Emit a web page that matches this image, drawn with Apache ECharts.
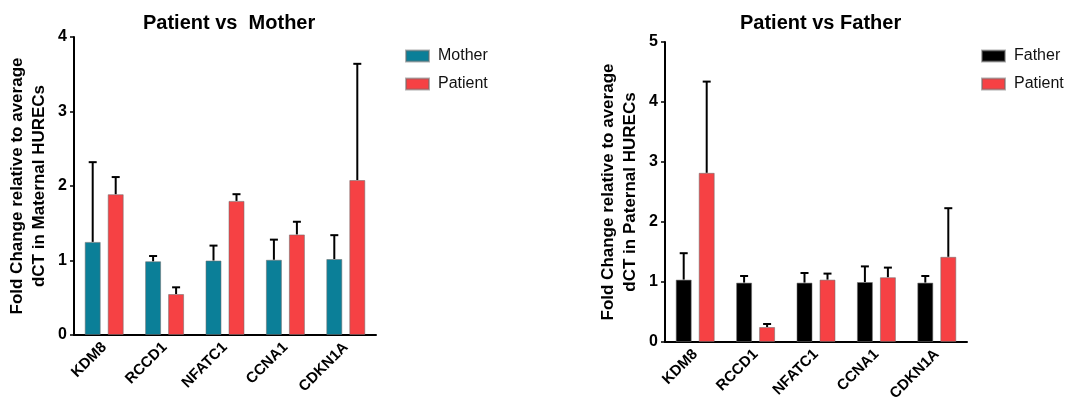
<!DOCTYPE html>
<html>
<head>
<meta charset="utf-8">
<script src="https://cdn.jsdelivr.net/npm/echarts@6/dist/echarts.min.js"></script>
<style>
html,body{margin:0;padding:0;background:#fff;}
#c{width:1073px;height:409px;}
</style>
</head>
<body>
<div id="c"></div>
<script>
// ---- data ----
const genes = ['KDM8', 'RCCD1', 'NFATC1', 'CCNA1', 'CDKN1A'];

// Left panel: Patient vs Mother
const motherMean = [1.25, 0.99, 1.00, 1.01, 1.02];
const motherErr  = [1.07, 0.07, 0.20, 0.27, 0.32];
const patientMMean = [1.89, 0.55, 1.80, 1.35, 2.08];
const patientMErr  = [0.23, 0.09, 0.09, 0.17, 1.56];

// Right panel: Patient vs Father
const fatherMean = [1.04, 0.99, 0.99, 1.00, 0.99];
const fatherErr  = [0.44, 0.11, 0.16, 0.26, 0.11];
const patientFMean = [2.82, 0.25, 1.04, 1.08, 1.42];
const patientFErr  = [1.52, 0.05, 0.10, 0.16, 0.81];

const yTicksLeft = [0, 1, 2, 3, 4];
const yTicksRight = [0, 1, 2, 3, 4, 5];

// ---- styles ----
const FONT = "'Liberation Sans', Arial, sans-serif";
const TEAL = '#0B7F98';
const RED = '#F64144';
const BLACK = '#000000';
const BAR_W = 16;
const BAR_GAP_PX = 7;
const OFFSET = (BAR_W + BAR_GAP_PX) / 2;

function errSeries(name, xi, yi, means, errs, dir) {
  return {
    type: 'custom',
    name: name + ' err',
    xAxisIndex: xi, yAxisIndex: yi,
    z: 5,
    silent: true,
    data: means.map((m, i) => [i, m, errs[i]]),
    renderItem: function (params, api) {
      const i = api.value(0);
      const m = api.value(1);
      const e = api.value(2);
      const base = api.coord([i, m]);
      const top = api.coord([i, m + e]);
      const x = base[0] + dir * OFFSET;
      const cap = 4;
      const st = { stroke: '#000', lineWidth: 2 };
      return {
        type: 'group',
        children: [
          { type: 'line', shape: { x1: x, y1: base[1], x2: x, y2: top[1] }, style: st },
          { type: 'line', shape: { x1: x - cap, y1: top[1], x2: x + cap, y2: top[1] }, style: st }
        ]
      };
    }
  };
}

function barSeries(name, xi, yi, data, color) {
  return {
    type: 'bar', name: name, xAxisIndex: xi, yAxisIndex: yi,
    data: data, barWidth: BAR_W, barGap: (BAR_GAP_PX / BAR_W * 100) + '%',
    itemStyle: { color: color, borderColor: 'rgba(110,110,110,0.55)', borderWidth: 1 },
    z: 2
  };
}

function xAxis(gi) {
  return {
    type: 'category', gridIndex: gi, data: genes,
    axisLine: { lineStyle: { color: '#000', width: 2 } },
    axisTick: { alignWithLabel: true, length: 6, lineStyle: { color: '#000', width: 2 } },
    axisLabel: { rotate: 45, margin: 10, color: '#000', fontFamily: FONT, fontWeight: 'bold', fontSize: 15 }
  };
}

function yAxis(gi, ticks, nameText) {
  return {
    type: 'value', gridIndex: gi, min: ticks[0], max: ticks[ticks.length - 1], interval: 1,
    name: nameText, nameLocation: 'middle', nameGap: 24,
    nameTextStyle: { color: '#000', fontFamily: FONT, fontWeight: 'bold', fontSize: 17, lineHeight: 22 },
    axisLine: { show: true, lineStyle: { color: '#000', width: 2 } },
    axisTick: { show: true, length: 4, lineStyle: { color: '#000', width: 1.5 } },
    splitLine: { show: false },
    axisLabel: { margin: 7, color: '#000', fontFamily: FONT, fontWeight: 'bold', fontSize: 16 }
  };
}

const chart = echarts.init(document.getElementById('c'), null, { renderer: 'canvas' });
chart.setOption({
  backgroundColor: '#fff',
  animation: false,
  title: [
    { text: 'Patient vs  Mother', left: 138, top: 8, textStyle: { fontFamily: FONT, fontWeight: 'bold', fontSize: 20, color: '#000' } },
    { text: 'Patient vs Father', left: 735, top: 8, textStyle: { fontFamily: FONT, fontWeight: 'bold', fontSize: 20, color: '#000' } }
  ],
  legend: [
    { data: ['Mother', 'Patient'], orient: 'vertical', left: 400, top: 43, icon: 'rect', itemWidth: 23, itemHeight: 11, itemGap: 12,
      textStyle: { fontFamily: FONT, fontSize: 16, color: '#111', padding: [0, 0, 0, 4] } },
    { data: ['Father', 'Patient '], orient: 'vertical', left: 976, top: 43, icon: 'rect', itemWidth: 23, itemHeight: 11, itemGap: 12,
      textStyle: { fontFamily: FONT, fontSize: 16, color: '#111', padding: [0, 0, 0, 4] },
      formatter: function (n) { return n.trim(); } }
  ],
  grid: [
    { left: 74, top: 37, width: 302, height: 298 },
    { left: 665, top: 42, width: 302, height: 300 }
  ],
  xAxis: [xAxis(0), xAxis(1)],
  yAxis: [
    yAxis(0, yTicksLeft, 'Fold Change relative to average\ndCT in Maternal HURECs'),
    yAxis(1, yTicksRight, 'Fold Change relative to average\ndCT in Paternal HURECs')
  ],
  series: [
    barSeries('Mother', 0, 0, motherMean, TEAL),
    barSeries('Patient', 0, 0, patientMMean, RED),
    errSeries('Mother', 0, 0, motherMean, motherErr, -1),
    errSeries('Patient', 0, 0, patientMMean, patientMErr, 1),
    barSeries('Father', 1, 1, fatherMean, BLACK),
    barSeries('Patient ', 1, 1, patientFMean, RED),
    errSeries('Father', 1, 1, fatherMean, fatherErr, -1),
    errSeries('Patient ', 1, 1, patientFMean, patientFErr, 1)
  ]
});
</script>
</body>
</html>
